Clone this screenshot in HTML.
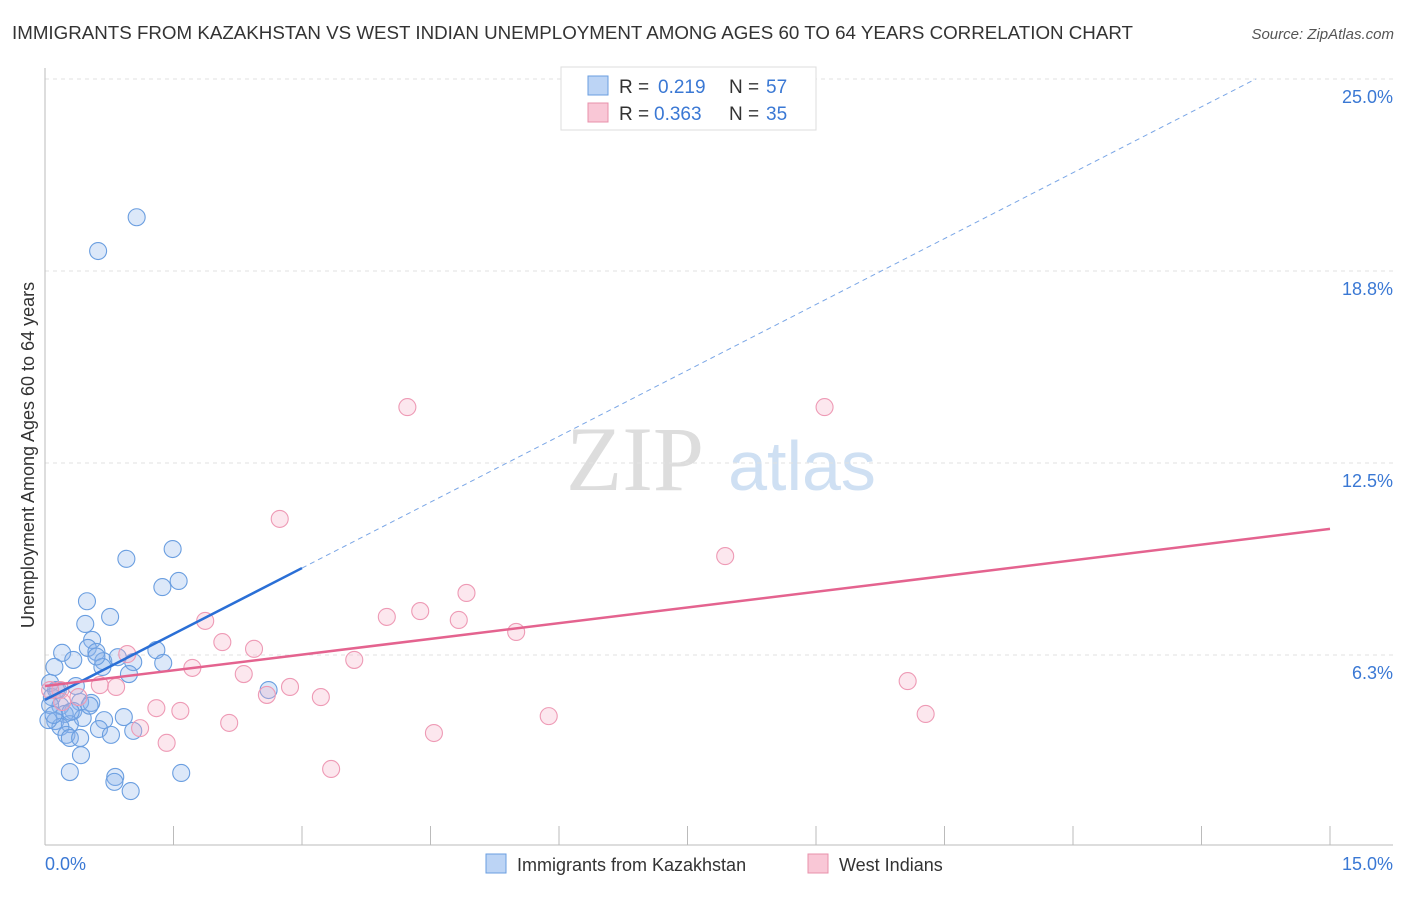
<!DOCTYPE html>
<html><head><meta charset="utf-8"><style>
body{margin:0;background:#fff;font-family:"Liberation Sans",sans-serif;}
svg text{font-family:"Liberation Sans",sans-serif;}
</style></head><body>
<svg id="c" width="1406" height="892" xmlns="http://www.w3.org/2000/svg">
<text x="12" y="39" font-size="18" fill="#333" textLength="1121" lengthAdjust="spacingAndGlyphs">IMMIGRANTS FROM KAZAKHSTAN VS WEST INDIAN UNEMPLOYMENT AMONG AGES 60 TO 64 YEARS CORRELATION CHART</text>
<text x="1394" y="39" font-size="15" fill="#555" font-style="italic" text-anchor="end">Source: ZipAtlas.com</text>
<text x="635" y="490" font-size="92" fill="#ddd" style="font-family:'Liberation Serif',serif" text-anchor="middle">ZIP</text>
<text x="802" y="490" font-size="70" fill="#cfe0f3" text-anchor="middle">atlas</text>
<text transform="translate(34,455) rotate(-90)" font-size="18" fill="#333" text-anchor="middle">Unemployment Among Ages 60 to 64 years</text>
<g id="grid"></g><g id="pts"></g><g id="lines"></g>
<g>
<rect x="561" y="67" width="255" height="63" fill="#fff" stroke="#ddd"/>
<rect x="588" y="76" width="20" height="19" fill="#bcd4f5" stroke="#6a9ee0"/>
<rect x="588" y="103" width="20" height="19" fill="#f9c7d6" stroke="#e890ab"/>
<text x="619" y="93" font-size="19" fill="#333">R =</text><text x="658" y="93" font-size="19" fill="#3a78d4">0.219</text>
<text x="729" y="93" font-size="19" fill="#333">N =</text><text x="766" y="93" font-size="19" fill="#3a78d4">57</text>
<text x="619" y="120" font-size="19" fill="#333">R =</text><text x="654" y="120" font-size="19" fill="#3a78d4">0.363</text>
<text x="729" y="120" font-size="19" fill="#333">N =</text><text x="766" y="120" font-size="19" fill="#3a78d4">35</text>
</g>
<g>
<rect x="486" y="854" width="20" height="19" fill="#bcd4f5" stroke="#6a9ee0"/>
<text x="517" y="871" font-size="18" fill="#333">Immigrants from Kazakhstan</text>
<rect x="808" y="854" width="20" height="19" fill="#f9c7d6" stroke="#e890ab"/>
<text x="839" y="871" font-size="18" fill="#333">West Indians</text>
</g>
<text x="45" y="870" font-size="18" fill="#3a78d4">0.0%</text>
<text x="1393" y="870" font-size="18" fill="#3a78d4" text-anchor="end">15.0%</text>
</svg>
<script>
const yTicks=[6.3,12.5,18.8,25.0];
const yTickVals=[6.25,12.5,18.75,25];
const blueX=[1.07,0.62,1.49,0.95,1.56,1.37,0.49,0.76,0.47,0.55,0.50,0.60,0.20,1.30,0.33,0.68,0.85,1.03,1.38,0.11,0.67,0.98,0.06,0.36,0.15,2.61,0.08,0.41,0.54,0.18,0.06,0.33,0.23,0.44,0.92,0.12,0.69,0.29,0.18,0.63,0.25,0.29,0.41,0.77,1.03,0.42,0.29,1.59,0.82,0.81,1.0,0.04,0.13,0.52,0.1,0.3,0.6];
const blueY=[20.5,19.4,9.7,9.38,8.66,8.46,8.0,7.49,7.26,6.74,6.48,6.35,6.32,6.41,6.09,6.05,6.18,6.02,5.99,5.86,5.86,5.63,5.34,5.24,5.11,5.11,4.88,4.72,4.69,4.59,4.62,4.43,4.33,4.2,4.23,4.1,4.13,4.0,3.91,3.84,3.65,3.55,3.55,3.65,3.78,2.99,2.44,2.41,2.28,2.12,1.82,4.13,5.11,4.6,4.3,4.4,6.2];
const pinkX=[4.23,9.1,2.74,7.94,4.92,4.38,3.99,4.83,1.87,5.50,2.07,2.44,0.96,3.61,1.72,2.32,10.07,2.86,0.83,0.64,2.59,3.22,0.18,0.39,1.30,1.58,10.28,5.88,2.15,1.11,4.54,1.42,3.34,0.2,0.06];
const pinkY=[14.32,14.32,10.68,9.47,8.27,7.68,7.49,7.39,7.36,7.0,6.67,6.45,6.28,6.09,5.83,5.63,5.4,5.21,5.21,5.27,4.95,4.88,5.11,4.88,4.52,4.43,4.33,4.26,4.04,3.87,3.71,3.39,2.54,4.72,5.11];
const blueTrend=[4.79,1.43]; const pinkTrend=[5.24,0.341];
const xs=v=>45+v/15*1285, ys=v=>847-v*30.72;
const NS='http://www.w3.org/2000/svg';
function mk(t,a,p){const e=document.createElementNS(NS,t);for(const k in a)e.setAttribute(k,a[k]);p.appendChild(e);return e;}
const g=document.getElementById('grid');
yTickVals.forEach((v,i)=>{
 const l=mk('line',{x1:45,x2:1393,y1:ys(v),y2:ys(v),stroke:'#e2e2e2','stroke-dasharray':'4,4'},g);
 
 
 const t=mk('text',{x:1393,y:ys(v)+24,'font-size':18,fill:'#3a78d4','text-anchor':'end'},g);
 t.textContent=yTicks[i].toFixed(1)+'%';
 
 
});
mk('line',{x1:45,x2:45,y1:68,y2:845,stroke:'#bbb'},g);
mk('line',{x1:45,x2:1393,y1:845,y2:845,stroke:'#bbb'},g);
for(let i=0;i<=10;i++){const x=xs(i*1.5);const tk=mk('line',{x1:x,x2:x,y1:826,y2:845,stroke:'#bbb'},g);
 
 }
const P=document.getElementById('pts');
blueX.forEach((x,i)=>{const c=mk('circle',{cx:xs(x),cy:ys(blueY[i]),r:8.5,fill:'rgba(140,180,235,0.3)',stroke:'#6a9ee0','stroke-width':1.1},P);
 
 });
pinkX.forEach((x,i)=>{const c=mk('circle',{cx:xs(x),cy:ys(pinkY[i]),r:8.5,fill:'rgba(245,175,200,0.3)',stroke:'#ee9ab5','stroke-width':1.1},P);
 
 });
const L=document.getElementById('lines');
const bEnd=(25-blueTrend[0])/blueTrend[1];
const b1=mk('line',{x1:xs(0),y1:ys(blueTrend[0]),x2:xs(3),y2:ys(blueTrend[0]+3*blueTrend[1]),stroke:'#2a6fd6','stroke-width':2.5},L);


const b2=mk('line',{x1:xs(3),y1:ys(blueTrend[0]+3*blueTrend[1]),x2:xs(bEnd),y2:ys(25),stroke:'#7aa6e6','stroke-width':1,'stroke-dasharray':'5,4'},L);


const p1=mk('line',{x1:xs(0),y1:ys(pinkTrend[0]),x2:xs(15),y2:ys(pinkTrend[0]+15*pinkTrend[1]),stroke:'#e4638f','stroke-width':2.5},L);


</script>
</body></html>
